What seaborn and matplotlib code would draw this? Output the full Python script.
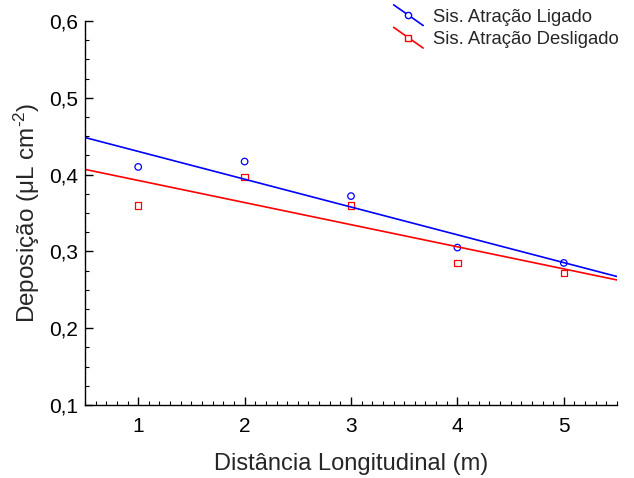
import numpy as np
import pandas as pd
import seaborn as sns
import matplotlib
matplotlib.use("Agg")
import matplotlib.pyplot as plt
from matplotlib.ticker import MultipleLocator, FuncFormatter
from matplotlib.legend_handler import HandlerLine2D
from matplotlib.lines import Line2D

distancia = [1, 2, 3, 4, 5]
ligado = [0.410, 0.417, 0.372, 0.305, 0.285]
desligado = [0.360, 0.397, 0.360, 0.285, 0.272]
series_names = ["Sis. Atração Ligado", "Sis. Atração Desligado"]
colors = ["#0000ff", "#ff0000"]
markers = ["o", "s"]

sns.set_theme(style="ticks")
plt.rcParams["font.family"] = ["Liberation Sans", "DejaVu Sans"]
plt.rcParams["mathtext.fontset"] = "custom"
plt.rcParams["mathtext.rm"] = "Liberation Sans"
plt.rcParams["mathtext.it"] = "Liberation Sans:italic"
plt.rcParams["mathtext.bf"] = "Liberation Sans:bold"

fig = plt.figure(figsize=(6.34, 4.78), dpi=100)
ax = fig.add_axes([85/634, 1-405/478, (617-85)/634, (405-21)/478])

xlim = (0.5, 5.5)
df = pd.DataFrame({"x": distancia * 2,
                   "y": ligado + desligado,
                   "s": [series_names[0]] * 5 + [series_names[1]] * 5})

for name, col, mk in zip(series_names, colors, markers):
    sub = df[df["s"] == name]
    sns.scatterplot(data=sub, x="x", y="y", ax=ax, marker=mk, s=22,
                    facecolor="none", edgecolor=col, linewidth=0.9, legend=False)
    slope, inter = np.polyfit(sub["x"], sub["y"], 1)
    xs = np.array(xlim)
    sns.lineplot(x=xs, y=inter + slope * xs, ax=ax, color=col, linewidth=1.2)

ax.set_xlim(*xlim)
ax.set_ylim(0.1, 0.6)
ax.xaxis.set_major_locator(MultipleLocator(1))
ax.xaxis.set_minor_locator(MultipleLocator(0.1))
ax.yaxis.set_major_locator(MultipleLocator(0.1))
ax.yaxis.set_minor_locator(MultipleLocator(0.025))
ax.yaxis.set_major_formatter(FuncFormatter(lambda v, p: f"{v:.1f}".replace(".", ",")))
ax.tick_params(which="major", direction="in", length=6, width=1, labelsize=15, colors="black")
ax.tick_params(axis="x", which="major", pad=9)
ax.tick_params(axis="y", which="major", pad=5)
ax.tick_params(which="minor", direction="in", length=3, width=0.8, colors="black")
for sp in ["top", "right"]:
    ax.spines[sp].set_visible(False)
for sp in ["left", "bottom"]:
    ax.spines[sp].set_color("black")
    ax.spines[sp].set_linewidth(1.0)

ax.set_xlabel("Distância Longitudinal (m)", fontsize=17, labelpad=12)
ax.set_ylabel(r"Deposição (μL cm$^{\text{-2}}$)", fontsize=17.5, labelpad=5)


class DiagHandler(HandlerLine2D):
    def create_artists(self, legend, orig_handle, xdescent, ydescent, width, height, fontsize, trans):
        x0, x1 = -xdescent, -xdescent + width
        y0, y1 = -ydescent + height * 1.3, -ydescent - height * 0.3
        line = Line2D([x0, x1], [y0, y1], color=orig_handle.get_color(), linewidth=1.2)
        line.set_transform(trans)
        mk = Line2D([(x0 + x1) / 2], [(y0 + y1) / 2], marker=orig_handle.get_marker(),
                    markersize=4.5, markerfacecolor="white",
                    markeredgecolor=orig_handle.get_color(), linestyle="none")
        mk.set_transform(trans)
        return [line, mk]


handles = [Line2D([], [], color=c, marker=m) for c, m in zip(colors, markers)]
fig.legend(handles, series_names, loc="upper left", bbox_to_anchor=(377/634, 1 + 8/478),
           frameon=False, fontsize=13.3, handlelength=1.6, handletextpad=0.55,
           labelspacing=0.3, handler_map={Line2D: DiagHandler()})

fig.savefig("out.png", dpi=100)
